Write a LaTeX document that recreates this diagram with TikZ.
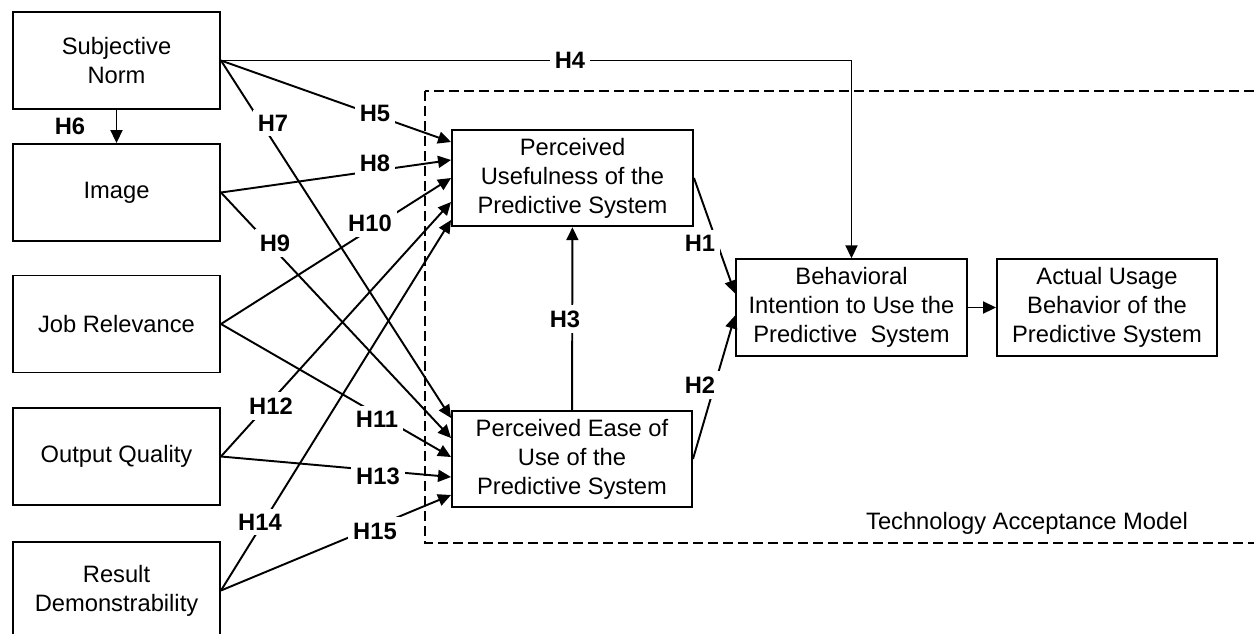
\documentclass[tikz,border=0pt]{standalone}
\usepackage{fontspec}
\setmainfont{Liberation Sans}
\usetikzlibrary{arrows.meta}

\begin{document}
\begin{tikzpicture}[>={Triangle[length=2.6mm,width=2.4mm]}, line width=1.1pt]
   \tikzstyle{every node}=[font=\fontsize{13.5}{16.5}\selectfont]
   \tikzstyle{factor}=[draw, align=center, minimum width=4.14cm, minimum height=1.94cm, inner sep=0pt]
   \tikzstyle{tambox}=[draw, align=center, minimum height=1.93cm, inner sep=0pt]
   \tikzstyle{hyp}=[fill=white, font=\fontsize{13.5}{16.5}\selectfont\bfseries, inner sep=3pt]

\useasboundingbox (0,0) rectangle (25.08,-12.66);
\clip (0,0) rectangle (25.08,-12.66);

\draw[dash pattern=on 0.2cm off 0.1cm] (8.5,-1.82) rectangle (25.6,-10.86);
\node (tam) at (20.54,-10.46) {Technology Acceptance Model};

\node[factor] (sn) at (2.33,-1.21) {Subjective\\Norm};
\node[factor] (img) at (2.33,-3.85) {Image};
\node[factor] (job) at (2.33,-6.48) {Job Relevance};
\node[factor] (out) at (2.33,-9.13) {Output Quality};
\node[factor] (res) at (2.33,-11.81) {Result\\Demonstrability};

\node[tambox, minimum width=4.82cm] (pu) at (11.45,-3.56) {Perceived\\Usefulness of the\\Predictive System};
\node[tambox, minimum width=4.80cm] (peou) at (11.44,-9.18) {Perceived Ease of\\Use of the\\Predictive System};
\node[tambox, minimum width=4.62cm] (bi) at (17.03,-6.15) {Behavioral\\Intention to Use the\\Predictive~~System};
\node[tambox, minimum width=4.40cm] (au) at (22.14,-6.15) {Actual Usage\\Behavior of the\\Predictive System};

\draw[->] (sn) -- (img);
\draw[->] (sn.east) -| (bi.north);
\draw[->] (sn.east) -- ([yshift=0.72cm]pu.west);
\draw[->] (sn.east) -- ([yshift=0.82cm]peou.west);
\draw[->] (img.east) -- ([yshift=0.36cm]pu.west);
\draw[->] (img.east) -- ([yshift=0.42cm]peou.west);
\draw[->] (job.east) -- (pu.west);
\draw[->] (job.east) -- ([yshift=0.04cm]peou.west);
\draw[->] (out.east) -- ([yshift=-0.48cm]pu.west);
\draw[->] (out.east) -- ([yshift=-0.36cm]peou.west);
\draw[->] (res.east) -- ([yshift=-0.84cm]pu.west);
\draw[->] (res.east) -- ([yshift=-0.72cm]peou.west);
\draw[->] (pu.east) -- ([yshift=0.28cm]bi.west);
\draw[->] (peou.east) -- ([yshift=-0.16cm]bi.west);
\draw[->] (peou) -- (pu);
\draw[->] (bi) -- (au);

\node[hyp] (h1) at (14.0,-4.86) {H1};
\node[hyp] (h2) at (14.0,-7.70) {H2};
\node[hyp] (h3) at (11.3,-6.38) {H3};
\node[hyp] (h4) at (11.4,-1.20) {H4};
\node[hyp] (h5) at (7.5,-2.26) {H5};
\node[hyp] (h6) at (1.4,-2.52) {H6};
\node[hyp] (h7) at (5.46,-2.46) {H7};
\node[hyp] (h8) at (7.5,-3.26) {H8};
\node[hyp] (h9) at (5.5,-4.86) {H9};
\node[hyp] (h10) at (7.4,-4.46) {H10};
\node[hyp] (h11) at (7.54,-8.38) {H11};
\node[hyp] (h12) at (5.42,-8.12) {H12};
\node[hyp] (h13) at (7.56,-9.52) {H13};
\node[hyp] (h14) at (5.2,-10.44) {H14};
\node[hyp] (h15) at (7.5,-10.62) {H15};

\end{tikzpicture}
\end{document}
